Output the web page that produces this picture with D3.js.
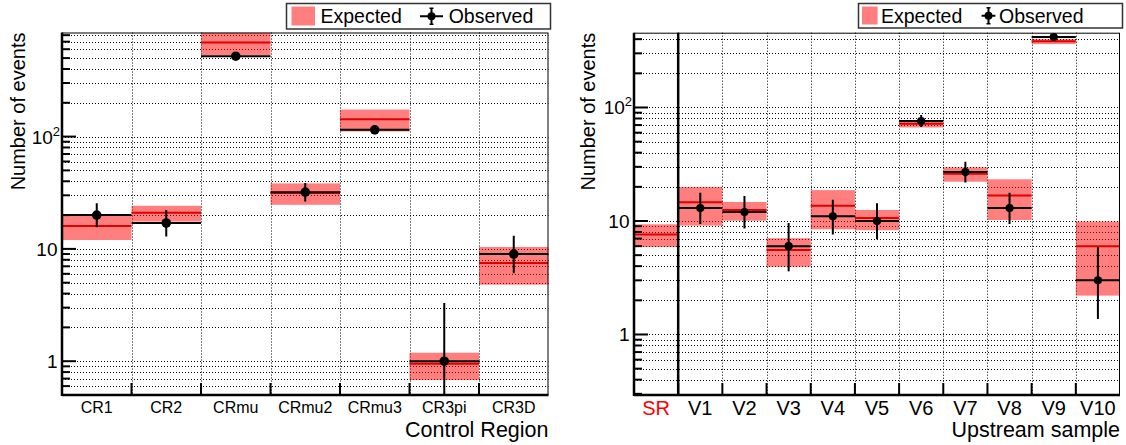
<!DOCTYPE html>
<html>
<head>
<meta charset="utf-8">
<script src="https://cdnjs.cloudflare.com/ajax/libs/d3/7.8.5/d3.min.js"></script>
<style>
body { margin: 0; background: #fff; }
svg text { font-family: "Liberation Sans", Arial, Helvetica, sans-serif; fill: #000; }
</style>
</head>
<body>
<div id="svg_goes_here"></div>
<script>
//Left pad: control regions
var cr_categories = ['CR1', 'CR2', 'CRmu', 'CRmu2', 'CRmu3', 'CR3pi', 'CR3D'];
var cr_expected = [16, 21, 690, 31.5, 143, 0.95, 7.5];
var cr_expected_low = [12, 17.5, 530, 24.7, 111, 0.68, 4.8];
var cr_expected_high = [20, 24.2, 850, 38.3, 174, 1.19, 10.4];
var cr_observed = [20, 17, 520, 32, 115, 1, 9];
var cr_observed_low = [15.6, 12.9, 497, 26.4, 104.8, 0.17, 6.06];
var cr_observed_high = [25.5, 22.2, 543, 38.7, 126.2, 3.3, 13.1];

//Right pad: upstream samples, SR is blinded (no observed)
var vr_categories = ['SR', 'V1', 'V2', 'V3', 'V4', 'V5', 'V6', 'V7', 'V8', 'V9', 'V10'];
var vr_expected = [7.6, 14.6, 12.5, 5.55, 13.6, 10.6, 72, 26.1, 16.8, 383, 6.0];
var vr_expected_low = [5.9, 9.1, 10.06, 3.95, 8.45, 8.3, 66.7, 22.2, 10.2, 362, 2.2];
var vr_expected_high = [9.35, 19.9, 14.7, 7.05, 18.7, 12.5, 76.5, 29.7, 23.3, 400, 9.9];
var vr_observed = [null, 13, 12, 6, 11, 10, 76, 27, 13, 418, 3];
var vr_observed_low = [null, 9.4, 8.6, 3.6, 7.6, 6.9, 67.3, 21.8, 9.4, 398, 1.37];
var vr_observed_high = [null, 17.7, 16.6, 9.6, 15.4, 14.3, 85.8, 33.3, 17.7, 439, 5.9];

//Major y ticks and their labels (base, exponent)
var y_major_ticks = [1, 10, 100];
var y_major_labels = [['1', ''], ['10', ''], ['10', '2']];

var legend_labels = ['Expected', 'Observed'];

var colours = {
	band: 'rgba(255,0,0,0.5)',
	expected_line: '#e00000',
	observed: '#000',
	grid: '#000'
}

var svg = d3.select('#svg_goes_here')
	.append('svg')
	.attr('width', 1126)
	.attr('height', 445);

//Everything about where a pad sits on the page
var left_pad = {
	name: 'cr',
	left: 62, right: 548.5, top: 32.5, bottom: 395,
	y_domain: [0.5, 845],
	label_size: 16, label_baseline: 412.5,
	title_x: 25,
	x_title: 'Control Region',
	dot_r: 4.8,
	separator: false,
	legend: {x: 286, y: 3, w: 264, h: 25.5, rect_x: 291.5, rect_w: 23.5, text1_x: 320.5, sym_x0: 420, sym_x1: 443, text2_x: 448.7}
}
var right_pad = {
	name: 'vr',
	left: 634, right: 1120, top: 32.7, bottom: 395,
	y_domain: [0.293, 456],
	label_size: 20, label_baseline: 415,
	title_x: 594.5,
	x_title: 'Upstream sample',
	dot_r: 4.1,
	separator: true,
	legend: {x: 858, y: 3, w: 264, h: 24.5, rect_x: 862, rect_w: 15.6, text1_x: 881, sym_x0: 981.6, sym_x1: 995.4, text2_x: 999}
}

var cr_data = {
	categories: cr_categories, expected: cr_expected, expected_low: cr_expected_low, expected_high: cr_expected_high,
	observed: cr_observed, observed_low: cr_observed_low, observed_high: cr_observed_high
}
var vr_data = {
	categories: vr_categories, expected: vr_expected, expected_low: vr_expected_low, expected_high: vr_expected_high,
	observed: vr_observed, observed_low: vr_observed_low, observed_high: vr_observed_high
}

function pad_draw(pad, data){
	var x = d3.scaleBand().domain(data.categories).range([pad.left, pad.right]).padding(0);
	var y = d3.scaleLog().domain(pad.y_domain).range([pad.bottom, pad.top]);
	var g = svg.append('g');
	var clip_id = 'clip_' + pad.name;
	g.append('clipPath')
		.attr('id', clip_id)
		.append('rect')
		.attr('x', pad.left)
		.attr('y', pad.top)
		.attr('width', pad.right - pad.left)
		.attr('height', pad.bottom - pad.top);

	//dotted grid, one line per tick (major and minor)
	var all_ticks = y.ticks().filter(function(t){ return y(t) < pad.bottom - 0.5 && y(t) > pad.top + 0.5; });
	g.selectAll('.hgrid')
		.data(all_ticks)
		.enter()
		.append('line')
		.attr('x1', pad.left)
		.attr('x2', pad.right)
		.attr('y1', function(d){ return Math.round(y(d)) + 0.5; })
		.attr('y2', function(d){ return Math.round(y(d)) + 0.5; })
		.style('stroke', colours.grid)
		.style('stroke-width', 1)
		.style('stroke-dasharray', '1,2');
	var edges = data.categories.slice(1);
	g.selectAll('.vgrid')
		.data(edges)
		.enter()
		.append('line')
		.attr('x1', function(d){ return Math.round(x(d)) + 0.5; })
		.attr('x2', function(d){ return Math.round(x(d)) + 0.5; })
		.attr('y1', pad.top)
		.attr('y2', pad.bottom)
		.style('stroke', colours.grid)
		.style('stroke-width', 1)
		.style('stroke-dasharray', '1,2');

	var plot = g.append('g').attr('clip-path', 'url(#' + clip_id + ')');

	//expected bands and central values
	plot.selectAll('.band')
		.data(data.categories)
		.enter()
		.append('rect')
		.attr('x', function(d){ return x(d); })
		.attr('width', x.bandwidth())
		.attr('y', function(d, i){ return y(data.expected_high[i]); })
		.attr('height', function(d, i){ return y(data.expected_low[i]) - y(data.expected_high[i]); })
		.style('fill', colours.band);
	plot.selectAll('.exp_line')
		.data(data.categories)
		.enter()
		.append('line')
		.attr('x1', function(d){ return x(d); })
		.attr('x2', function(d){ return x(d) + x.bandwidth(); })
		.attr('y1', function(d, i){ return y(data.expected[i]); })
		.attr('y2', function(d, i){ return y(data.expected[i]); })
		.style('stroke', colours.expected_line)
		.style('stroke-width', 2);

	//observed points: x width bar, poisson error bar, dot
	var obs_idx = d3.range(data.categories.length).filter(function(i){ return data.observed[i] != null; });
	var obs = plot.selectAll('.obs')
		.data(obs_idx)
		.enter()
		.append('g');
	obs.append('line')
		.attr('x1', function(i){ return x(data.categories[i]); })
		.attr('x2', function(i){ return x(data.categories[i]) + x.bandwidth(); })
		.attr('y1', function(i){ return y(data.observed[i]); })
		.attr('y2', function(i){ return y(data.observed[i]); })
		.style('stroke', colours.observed)
		.style('stroke-width', 2);
	obs.append('line')
		.attr('x1', function(i){ return x(data.categories[i]) + x.bandwidth() / 2; })
		.attr('x2', function(i){ return x(data.categories[i]) + x.bandwidth() / 2; })
		.attr('y1', function(i){ return y(data.observed_high[i]); })
		.attr('y2', function(i){ return y(data.observed_low[i]); })
		.style('stroke', colours.observed)
		.style('stroke-width', 2);
	obs.append('circle')
		.attr('cx', function(i){ return x(data.categories[i]) + x.bandwidth() / 2; })
		.attr('cy', function(i){ return y(data.observed[i]); })
		.attr('r', pad.dot_r)
		.style('fill', colours.observed);

	//frame
	g.append('rect')
		.attr('x', pad.left + 0.5)
		.attr('y', pad.top + 0.5)
		.attr('width', pad.right - pad.left - 1)
		.attr('height', pad.bottom - pad.top - 1)
		.style('fill', 'none')
		.style('stroke', '#000')
		.style('stroke-width', 1);
	g.append('line')
		.attr('x1', pad.left).attr('x2', pad.left)
		.attr('y1', pad.top).attr('y2', pad.bottom + 1)
		.style('stroke', '#000').style('stroke-width', 2.5);
	g.append('line')
		.attr('x1', pad.left).attr('x2', pad.right)
		.attr('y1', pad.bottom).attr('y2', pad.bottom)
		.style('stroke', '#000').style('stroke-width', 2.5);
	if (pad.separator){
		g.append('line')
			.attr('x1', x(data.categories[1])).attr('x2', x(data.categories[1]))
			.attr('y1', pad.top).attr('y2', pad.bottom)
			.style('stroke', '#000').style('stroke-width', 2.5);
	}

	//y ticks, major long and minor short
	g.selectAll('.ytick')
		.data(all_ticks)
		.enter()
		.append('line')
		.attr('x1', pad.left)
		.attr('x2', function(d){ return pad.left + (y_major_ticks.indexOf(d) >= 0 ? 14 : 8); })
		.attr('y1', function(d){ return y(d); })
		.attr('y2', function(d){ return y(d); })
		.style('stroke', '#000')
		.style('stroke-width', 2);
	var labels = g.selectAll('.ylabel')
		.data(y_major_ticks)
		.enter()
		.append('text')
		.attr('x', function(d, i){ return pad.left - (y_major_labels[i][1] ? 2 : 4.5); })
		.attr('y', function(d){ return y(d) + 7; })
		.attr('text-anchor', 'end')
		.style('font-size', '19px');
	labels.append('tspan')
		.text(function(d, i){ return y_major_labels[i][0]; });
	labels.append('tspan')
		.attr('dy', -8)
		.style('font-size', '13px')
		.text(function(d, i){ return y_major_labels[i][1]; });

	//x ticks at bin edges
	g.selectAll('.xtick')
		.data(edges)
		.enter()
		.append('line')
		.attr('x1', function(d){ return x(d); })
		.attr('x2', function(d){ return x(d); })
		.attr('y1', pad.bottom)
		.attr('y2', pad.bottom - 12)
		.style('stroke', '#000')
		.style('stroke-width', 2);
	g.selectAll('.xlabel')
		.data(data.categories)
		.enter()
		.append('text')
		.attr('x', function(d){ return x(d) + x.bandwidth() / 2; })
		.attr('y', pad.label_baseline)
		.attr('text-anchor', 'middle')
		.style('font-size', pad.label_size + 'px')
		.style('fill', function(d){ return d == 'SR' ? '#ff0000' : '#000'; })
		.text(function(d){ return d; });

	//axis titles
	g.append('text')
		.attr('x', pad.right)
		.attr('y', 437)
		.attr('text-anchor', 'end')
		.style('font-size', '21.5px')
		.text(pad.x_title);
	g.append('text')
		.attr('transform', 'translate(' + pad.title_x + ',' + pad.top + ') rotate(-90)')
		.attr('text-anchor', 'end')
		.style('font-size', '20px')
		.text('Number of events');

	legend_draw(pad.legend);
}

function legend_draw(lg){
	var g = svg.append('g');
	g.append('rect')
		.attr('x', lg.x + 0.5)
		.attr('y', lg.y + 0.5)
		.attr('width', lg.w)
		.attr('height', lg.h)
		.style('fill', '#fff')
		.style('stroke', '#333')
		.style('stroke-width', 1.5);
	g.append('rect')
		.attr('x', lg.rect_x)
		.attr('y', lg.y + 3.5)
		.attr('width', lg.rect_w)
		.attr('height', lg.h - 6.5)
		.style('fill', colours.band);
	g.append('text')
		.attr('x', lg.text1_x)
		.attr('y', lg.y + 19.5)
		.style('font-size', '19.5px')
		.text(legend_labels[0]);
	var cx = (lg.sym_x0 + lg.sym_x1) / 2;
	var cy = lg.y + lg.h / 2 + 0.5;
	g.append('line')
		.attr('x1', lg.sym_x0).attr('x2', lg.sym_x1)
		.attr('y1', cy).attr('y2', cy)
		.style('stroke', '#000').style('stroke-width', 2);
	g.append('line')
		.attr('x1', cx).attr('x2', cx)
		.attr('y1', cy - 8).attr('y2', cy + 8)
		.style('stroke', '#000').style('stroke-width', 2);
	g.append('line')
		.attr('x1', cx - 2).attr('x2', cx + 2)
		.attr('y1', cy - 8).attr('y2', cy - 8)
		.style('stroke', '#000').style('stroke-width', 1.5);
	g.append('line')
		.attr('x1', cx - 2).attr('x2', cx + 2)
		.attr('y1', cy + 8).attr('y2', cy + 8)
		.style('stroke', '#000').style('stroke-width', 1.5);
	g.append('circle')
		.attr('cx', cx).attr('cy', cy).attr('r', 4)
		.style('fill', '#000');
	g.append('text')
		.attr('x', lg.text2_x)
		.attr('y', lg.y + 19.5)
		.style('font-size', '19.5px')
		.text(legend_labels[1]);
}

pad_draw(left_pad, cr_data);
pad_draw(right_pad, vr_data);
</script>
</body>
</html>
